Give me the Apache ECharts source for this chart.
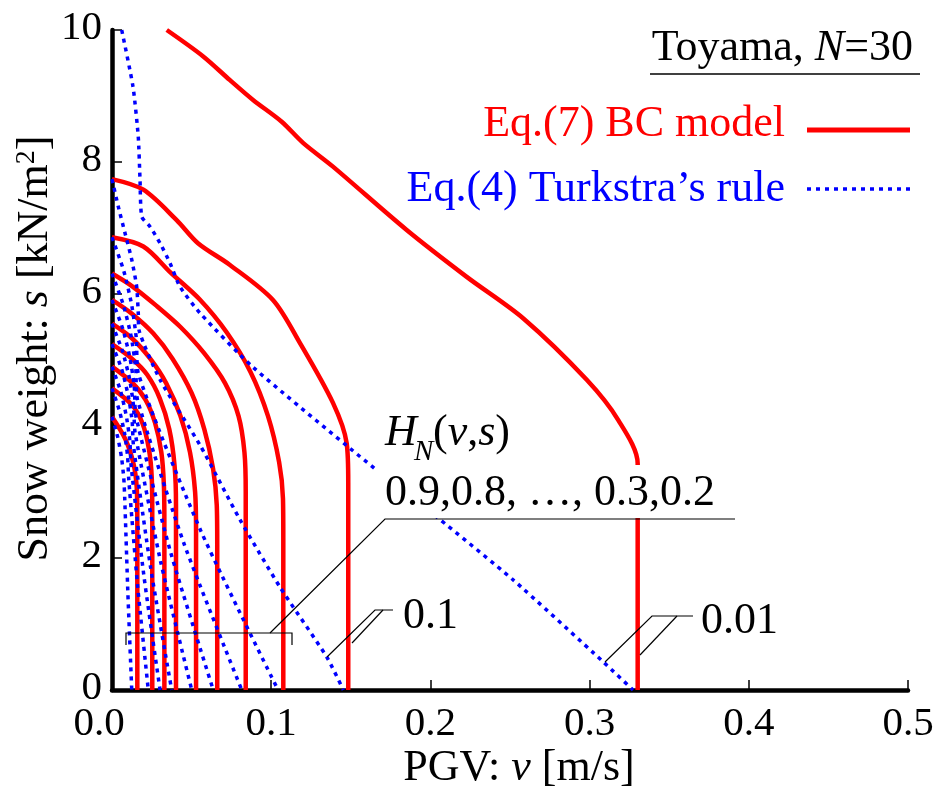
<!DOCTYPE html>
<html>
<head>
<meta charset="utf-8">
<script src="https://cdn.jsdelivr.net/npm/echarts@6/dist/echarts.min.js"></script>
<style>
  html, body { margin: 0; padding: 0; background: #fff; }
  #chart { width: 937px; height: 795px; }
</style>
</head>
<body>
<div id="chart"></div>
<script>
// Exceedance levels of H_N(v,s), innermost contour first
const levels = ['0.9', '0.8', '0.7', '0.6', '0.5', '0.4', '0.3', '0.2', '0.1', '0.01'];

// Tick values of both axes
const xTicks = [0, 0.1, 0.2, 0.3, 0.4, 0.5];
const yTicks = [0, 2, 4, 6, 8, 10];

// Eq.(7) BC model contours, points are [PGV v (m/s), snow weight s (kN/m2)]
const bc09 = [[0, 4.14], [0.0084, 3.80], [0.0134, 3.44], [0.0155, 3.08], [0.0159, 2.6], [0.0159, 0]];
const bc08 = [[0, 4.57], [0.0125, 4.32], [0.019, 4.05], [0.0232, 3.65], [0.025, 3.2], [0.0253, 2.6], [0.0253, 0]];
const bc07 = [[0, 4.90], [0.0125, 4.66], [0.021, 4.40], [0.027, 4.05], [0.031, 3.6], [0.0326, 3.1], [0.0329, 2.5], [0.0329, 0]];
const bc06 = [[0, 5.24], [0.0125, 5.02], [0.022, 4.78], [0.030, 4.42], [0.036, 3.95], [0.0393, 3.4], [0.0402, 2.8], [0.0402, 0]];
const bc05 = [[0, 5.55], [0.0125, 5.33], [0.024, 5.02], [0.034, 4.65], [0.043, 4.15], [0.049, 3.6], [0.0522, 3.0], [0.0528, 2.4], [0.0528, 0]];
const bc04 = [[0, 5.91], [0.0125, 5.70], [0.026, 5.40], [0.038, 5.02], [0.050, 4.50], [0.058, 3.95], [0.0635, 3.35], [0.0658, 2.8], [0.0661, 2.2], [0.0661, 0]];
const bc03 = [[0, 6.31], [0.0125, 6.12], [0.028, 5.82], [0.043, 5.5], [0.058, 5.1], [0.071, 4.65], [0.0795, 4.15], [0.0832, 3.6], [0.084, 3.0], [0.084, 0]];
const bc02 = [[0, 6.86], [0.0197, 6.72], [0.037, 6.32], [0.055, 5.92], [0.072, 5.42], [0.087, 4.82], [0.098, 4.15], [0.105, 3.45], [0.1074, 2.9], [0.1076, 2.3], [0.1076, 0]];
const bc01 = [[0, 7.74], [0.0197, 7.58], [0.0406, 7.12], [0.054, 6.77], [0.0741, 6.44], [0.1011, 5.91], [0.118, 5.26], [0.1388, 4.35], [0.1474, 3.74], [0.1484, 3.14], [0.1484, 0]];
const bc001 = [[0.0344, 10.0], [0.0573, 9.60], [0.0741, 9.24], [0.0886, 8.94], [0.1066, 8.61], [0.120, 8.29], [0.1388, 7.93], [0.1851, 6.97], [0.2228, 6.26], [0.2584, 5.63], [0.2982, 4.70], [0.318, 4.09], [0.3302, 3.43], [0.3302, 0]];

// Eq.(4) Turkstra's rule contours
const tk09 = [[0, 4.14], [0.0036, 3.83], [0.006, 3.52], [0.0074, 3.21], [0.008, 2.9], [0.010, 1.45], [0.0124, 0]];
const tk08 = [[0, 4.57], [0.0047, 4.23], [0.0079, 3.89], [0.0098, 3.54], [0.0105, 3.2], [0.016, 1.6], [0.0228, 0]];
const tk07 = [[0, 4.90], [0.0054, 4.53], [0.009, 4.15], [0.0112, 3.78], [0.012, 3.4], [0.0202, 1.7], [0.0302, 0]];
const tk06 = [[0, 5.24], [0.0061, 4.86], [0.0101, 4.47], [0.0126, 4.09], [0.0135, 3.7], [0.0243, 1.85], [0.0375, 0]];
const tk05 = [[0, 5.55], [0.0065, 5.14], [0.0109, 4.73], [0.0135, 4.31], [0.0145, 3.9], [0.0305, 1.95], [0.0501, 0]];
const tk04 = [[0, 5.91], [0.0068, 5.47], [0.0113, 5.03], [0.014, 4.59], [0.015, 4.15], [0.0369, 2.08], [0.0636, 0]];
const tk03 = [[0, 6.31], [0.0072, 5.83], [0.012, 5.36], [0.0149, 4.88], [0.016, 4.4], [0.0455, 2.2], [0.0815, 0]];
const tk02 = [[0, 6.86], [0.0074, 6.35], [0.0124, 5.83], [0.0153, 5.32], [0.0165, 4.8], [0.056, 2.4], [0.1043, 0]];
const tk01 = [[0, 7.74], [0.004, 7.32], [0.0082, 6.92], [0.0124, 6.52], [0.0155, 6.11], [0.0165, 5.71], [0.017, 5.45], [0.0302, 4.70], [0.0553, 3.71], [0.0804, 2.58], [0.1055, 1.56], [0.1349, 0.50], [0.1453, 0]];
const tk001 = [[0.0061, 10.0], [0.0132, 9.14], [0.0165, 8.38], [0.0176, 7.73], [0.0187, 7.17], [0.0239, 7.02], [0.0302, 6.77], [0.0364, 6.47], [0.0427, 6.11], [0.0553, 5.71], [0.0886, 4.89], [0.1683, 3.29], [0.2041, 2.62], [0.2519, 1.67], [0.3084, 0.43], [0.3273, 0]];

const bcCurves = [bc09, bc08, bc07, bc06, bc05, bc04, bc03, bc02, bc01, bc001];
const tkCurves = [tk09, tk08, tk07, tk06, tk05, tk04, tk03, tk02, tk01, tk001];

const FONT = 'Liberation Serif';
const RED = '#ff0000';
const BLUE = '#0000ff';

const series = [];
bcCurves.forEach((pts, i) => {
  series.push({
    name: 'BC ' + levels[i], type: 'line', data: pts, symbol: 'none', clip: false,
    silent: true, z: 2, smooth: 0.3,
    lineStyle: { color: RED, width: 4.5, cap: 'butt', join: 'round' }
  });
});
tkCurves.forEach((pts, i) => {
  series.push({
    name: 'Turkstra ' + levels[i], type: 'line', data: pts, symbol: 'none', clip: false,
    silent: true, z: 3, smooth: 0.2,
    lineStyle: { color: BLUE, width: 3.5, type: [4, 5], cap: 'butt', join: 'round' }
  });
});

// vertical centre of a text box from its baseline
const mid = (baseline, fs) => baseline - 0.305 * fs;

const leader = { stroke: '#000', lineWidth: 1.2, fill: null };
const serif = (size, extra) => Object.assign({ fontFamily: FONT, fontSize: size, color: '#000' }, extra || {});
const plain = (x, y, text, size, align, fill, italic) => ({
  type: 'text', z: 101, x: x, y: y,
  style: { text: text, align: align, verticalAlign: 'middle', fontFamily: FONT, fontSize: size,
           fontStyle: italic ? 'italic' : 'normal', fill: fill || '#000' }
});

const graphic = [
  // plot title and its rule
  { type: 'text', z: 101, x: 913, y: mid(62, 44),
    style: { text: '{n|Toyama, }{i|N}{n|=30}', align: 'right', verticalAlign: 'middle',
      rich: { n: { fontFamily: FONT, fontSize: 44, fill: '#000' },
              i: { fontFamily: FONT, fontSize: 44, fontStyle: 'italic', fill: '#000' } } } },
  { type: 'line', z: 101, shape: { x1: 650, y1: 74, x2: 920, y2: 74 }, style: { stroke: '#000', lineWidth: 1.3 } },

  // key
  plain(785, mid(138, 44), 'Eq.(7) BC model', 44, 'right', RED),
  { type: 'line', z: 101, shape: { x1: 807, y1: 130, x2: 910, y2: 130 }, style: { stroke: RED, lineWidth: 5 } },
  plain(785, mid(203, 44), 'Eq.(4) Turkstra\u2019s rule', 44, 'right', BLUE),
  { type: 'line', z: 101, shape: { x1: 807, y1: 189, x2: 910, y2: 189 },
    style: { stroke: BLUE, lineWidth: 3.5, lineDash: [4, 5] } },

  // white backing behind the level list
  { type: 'rect', z: 100, shape: { x: 376, y: 465, width: 364, height: 53 }, style: { fill: '#fff' } },

  // H_N(v,s)
  plain(385, mid(447, 44), 'H', 44, 'left', '#000', true),
  plain(414, mid(461, 29), 'N', 29, 'left', '#000', true),
  { type: 'text', z: 101, x: 433, y: mid(447, 44),
    style: { text: '{n|(}{i|v}{n|,}{i|s}{n|)}', align: 'left', verticalAlign: 'middle',
      rich: { n: { fontFamily: FONT, fontSize: 44, fill: '#000' },
              i: { fontFamily: FONT, fontSize: 44, fontStyle: 'italic', fill: '#000' } } } },

  // level labels
  plain(385, mid(507, 44), levels[0] + ',' + levels[1] + ', \u2026, ' + levels[6] + ',' + levels[7], 44, 'left'),
  plain(403, mid(630, 44), levels[8], 44, 'left'),
  plain(701, mid(635, 44), levels[9], 44, 'left'),

  // leader for 0.9 ... 0.2 with its bracket
  { type: 'polyline', z: 101, shape: { points: [[735, 519], [385, 519], [270, 633]] }, style: leader },
  { type: 'polyline', z: 101, shape: { points: [[126, 645], [126, 633], [292, 633], [292, 645]] }, style: leader },

  // leaders for 0.1
  { type: 'polyline', z: 101, shape: { points: [[393, 610], [375, 610], [327, 657]] }, style: leader },
  { type: 'polyline', z: 101, shape: { points: [[383, 610], [352, 643]] }, style: leader },

  // leaders for 0.01
  { type: 'polyline', z: 101, shape: { points: [[693, 616], [652, 616], [605, 662]] }, style: leader },
  { type: 'polyline', z: 101, shape: { points: [[677, 616], [640, 655]] }, style: leader }
];

const chart = echarts.init(document.getElementById('chart'), null, { renderer: 'canvas' });
chart.setOption({
  animation: false,
  backgroundColor: '#fff',
  textStyle: { fontFamily: FONT },
  grid: { left: 112, right: 29, top: 30, bottom: 105, containLabel: false },
  xAxis: {
    type: 'value', min: 0, max: 0.5, interval: 0.1,
    axisLine: { onZero: false, lineStyle: { color: '#000', width: 4.5 } },
    axisTick: { inside: true, length: 10, lineStyle: { color: '#000', width: 1.5 } },
    splitLine: { show: false },
    axisLabel: { show: false },
    name: '{n|PGV: }{i|v}{n| [m/s]}', nameLocation: 'middle', nameGap: 56,
    nameTextStyle: {
      color: '#000', fontFamily: FONT, fontSize: 44, padding: [0, 0, 0, 18],
      rich: { n: serif(44), i: serif(44, { fontStyle: 'italic' }) }
    }
  },
  yAxis: {
    type: 'value', min: 0, max: 10, interval: 2,
    axisLine: { onZero: false, lineStyle: { color: '#000', width: 4.5 } },
    axisTick: { inside: true, length: 10, lineStyle: { color: '#000', width: 1.5 } },
    splitLine: { show: false },
    axisLabel: { show: false },
    name: '{n|Snow weight: }{i|s}{n| [kN/m}{sup|2}{n|]}', nameLocation: 'middle', nameRotate: 90, nameGap: 55,
    nameTextStyle: {
      color: '#000', fontFamily: FONT, fontSize: 44, padding: [0, 0, 0, 23],
      rich: { n: serif(44), i: serif(44, { fontStyle: 'italic' }),
              sup: serif(28, { verticalAlign: 'top' }) }
    }
  },
  series: series
});

// tick labels in the serif face, placed through the axes' own scales
xTicks.forEach(v => {
  const p = chart.convertToPixel({ gridIndex: 0 }, [v, 0]);
  const shift = v === 0 ? -13 : 0;   // keep "0.0" clear of the "0" on the s axis
  graphic.push(plain(p[0] + shift, mid(737, 41), v.toFixed(1), 41, 'center'));
});
yTicks.forEach(s => {
  const p = chart.convertToPixel({ gridIndex: 0 }, [0, s]);
  graphic.push(plain(p[0] - 10, p[1] - 2, String(s), 41, 'right'));
});

chart.setOption({ graphic: graphic });
</script>
</body>
</html>
